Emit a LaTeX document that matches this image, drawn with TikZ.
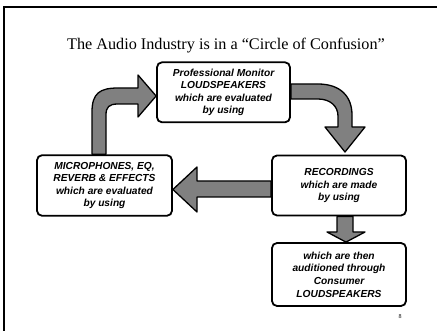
\documentclass[tikz,border=0pt]{standalone}
\usepackage{fontspec}
\setmainfont{Liberation Serif}
\newfontfamily\boxfont{Liberation Sans}
\usetikzlibrary{backgrounds}
\definecolor{arrowgray}{RGB}{128,128,128}
\begin{document}
\begin{tikzpicture}[x=1pt,y=-1pt,
  fatarrow/.style={fill=arrowgray,draw=black,line width=1.3pt,line join=round},
  textbox/.style={draw=black,fill=white,line width=1.8pt,rounded corners=5pt,
    inner sep=0pt,align=center,
    font=\boxfont\bfseries\itshape\fontsize{10.2}{12.6}\selectfont},
  frameline/.style={line width=1.5pt}]
\useasboundingbox (0,0) rectangle (437,331);
\draw[frameline] (4,331) -- (4,7) -- (437,7);
\node[anchor=base,font=\fontsize{16.2}{20}\selectfont] (title) at (226,50)
  {The Audio Industry is in a “Circle of Confusion”};
\node[textbox,minimum width=133pt,minimum height=60pt] (T) at (223.5,92.3)
  {Professional Monitor\\LOUDSPEAKERS\\which are evaluated\\by using};
\node[textbox,minimum width=135pt,minimum height=60.5pt] (L) at (104.5,185.5)
  {MICROPHONES, EQ,\\REVERB \& EFFECTS\\which are evaluated\\by using};
\node[textbox,minimum width=134pt,minimum height=60pt] (R) at (339,185.5)
  {RECORDINGS\\which are made\\by using};
\node[textbox,minimum width=134pt,minimum height=63pt] (B) at (339,274.5)
  {which are then\\auditioned through\\Consumer\\LOUDSPEAKERS};
\node[font=\fontsize{6}{7}\selectfont] (pg) at (400,317) {8};
\begin{pgfonlayer}{background}
\draw[fatarrow] (92,0 |- L.north) -- (92,112) .. controls (92,93) and (100,88) .. (118,88)
  -- (138,88) -- (138,75) -- (T.west |- 0,96) -- (138,117) -- (138,104) -- (118,104)
  .. controls (109,104) and (106,107) .. (106,115) -- (106,0 |- L.north) -- cycle;
\draw[fatarrow] (T.east |- 0,84) -- (318,84) .. controls (340,84) and (352,96) .. (352,115)
  -- (352,127) -- (365,127) -- (345,152) -- (325,127) -- (338,127) -- (338,116)
  .. controls (338,106) and (330,99) .. (318,99) -- (T.east |- 0,99) -- cycle;
\draw[fatarrow] (R.west |- 0,181) -- (197,181) -- (197,167) -- (L.east |- 0,189.5)
  -- (197,212) -- (197,197) -- (R.west |- 0,197) -- cycle;
\draw[fatarrow] (337,0 |- R.south) -- (337,232) -- (327,232) -- (346,0 |- B.north)
  -- (365,232) -- (353,232) -- (353,0 |- R.south) -- cycle;
\end{pgfonlayer}
\end{tikzpicture}
\end{document}
